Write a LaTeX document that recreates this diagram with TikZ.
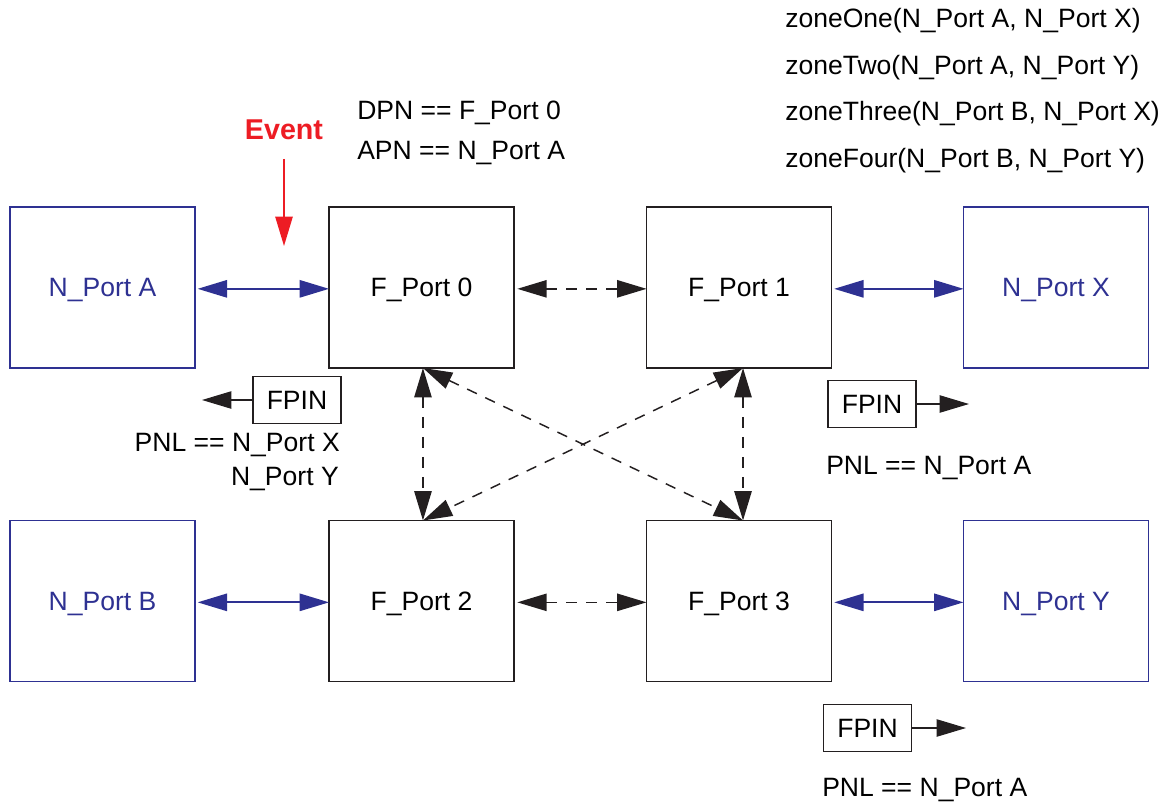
\documentclass[tikz,border=0pt]{standalone}
\usepackage{fontspec}
\setmainfont{Liberation Sans}
\usetikzlibrary{arrows.meta}
\definecolor{nblue}{HTML}{2E3192}
\definecolor{evred}{HTML}{ED1C24}
\definecolor{ink}{HTML}{231F20}
\begin{document}
\begin{tikzpicture}[x=0.75pt,y=-0.75pt,
  >={Triangle[length=22pt,width=13pt]},
  font=\fontsize{19.9}{24}\selectfont,
  every node/.style={text depth=0pt},
  portbox/.style={draw=ink,line width=1.1pt,minimum width=138.75pt,minimum height=120.75pt,inner sep=0pt,outer sep=0pt},
  nbox/.style={portbox,draw=nblue,text=nblue},
  fpin/.style={draw=ink,line width=0.9pt,minimum width=66pt,minimum height=35pt,inner sep=0pt,outer sep=0pt},
  bluelink/.style={nblue,line width=1.3pt,<->},
  dashlink/.style={ink,line width=1.1pt,dash pattern=on 8pt off 7pt,<->},
  outarrow/.style={ink,line width=0.9pt,->},
  lbl/.style={inner sep=0pt,anchor=west}]
\useasboundingbox (0,0) rectangle (1169,806);
% boxes
\node[nbox] (na) at (102.5,287.5) {N\_Port A};
\node[portbox] (f0) at (421.5,287.5) {F\_Port 0};
\node[portbox] (f1) at (739,287.5) {F\_Port 1};
\node[nbox] (nx) at (1056,287.5) {N\_Port X};
\node[nbox] (nb) at (102.5,601) {N\_Port B};
\node[portbox] (f2) at (421.5,601) {F\_Port 2};
\node[portbox] (f3) at (739,601) {F\_Port 3};
\node[nbox] (ny) at (1056,601) {N\_Port Y};
% horizontal links
\draw[bluelink,shorten <=2pt] ([yshift=-1pt]na.east) -- ([yshift=-1pt]f0.west);
\draw[bluelink,shorten <=2pt] ([yshift=-1pt]f1.east) -- ([yshift=-1pt]nx.west);
\draw[bluelink,shorten <=2pt] ([yshift=-1pt]nb.east) -- ([yshift=-1pt]f2.west);
\draw[bluelink,shorten <=2pt] ([yshift=-1pt]f3.east) -- ([yshift=-1pt]ny.west);
\draw[dashlink,shorten <=2.5pt] ([yshift=-1pt]f0.east) -- ([yshift=-1pt]f1.west);
\draw[dashlink,shorten <=2.5pt] ([yshift=-1pt]f2.east) -- ([yshift=-1pt]f3.west);
% vertical and diagonal links
\coordinate (c0) at ([xshift=1.1pt]f0.south);
\coordinate (c1) at ([xshift=3pt]f1.south);
\coordinate (c2) at ([xshift=1.1pt]f2.north);
\coordinate (c3) at ([xshift=3pt]f3.north);
\draw[dashlink] (c0) -- (c2);
\draw[dashlink] (c1) -- (c3);
\draw[dashlink] (c0) -- (c3);
\draw[dashlink] (c1) -- (c2);
% event
\node[font=\fontsize{21.5}{26}\selectfont\bfseries,text=evred,inner sep=0pt] (ev) at (284,130) {Event};
\coordinate (evtip) at (284,246);
\draw[evred,line width=1.1pt,->,shorten <=14pt] (ev.south) -- (evtip);
% DPN / APN
\node[lbl] (dpn) at (357,110) {DPN == F\_Port 0};
\node[lbl] (apn) at (357,150) {APN == N\_Port A};
% zones
\node[lbl] (z1) at (785,18) {zoneOne(N\_Port A, N\_Port X)};
\node[lbl] (z2) at (785,64.5) {zoneTwo(N\_Port A, N\_Port Y)};
\node[lbl] (z3) at (785,111) {zoneThree(N\_Port B, N\_Port X)};
\node[lbl] (z4) at (785,157.5) {zoneFour(N\_Port B, N\_Port Y)};
% FPIN 1
\node[fpin] (fp1) at (297,400) {FPIN};
\coordinate (fp1t) at (202,400);
\draw[outarrow] (fp1.west) -- (fp1t);
\node[inner sep=0pt,anchor=east] (pnl1) at (340,442) {PNL == N\_Port X};
\node[inner sep=0pt,anchor=east] (pnl1b) at (339,476) {N\_Port Y};
% FPIN 2
\node[fpin] (fp2) at (872,404) {FPIN};
\coordinate (fp2t) at (969,404);
\draw[outarrow] (fp2.east) -- (fp2t);
\node[lbl] (pnl2) at (826,465) {PNL == N\_Port A};
% FPIN 3
\node[fpin] (fp3) at (867.5,728) {FPIN};
\coordinate (fp3t) at (966,728);
\draw[outarrow] (fp3.east) -- (fp3t);
\node[lbl] (pnl3) at (822,787) {PNL == N\_Port A};
\end{tikzpicture}
\end{document}
